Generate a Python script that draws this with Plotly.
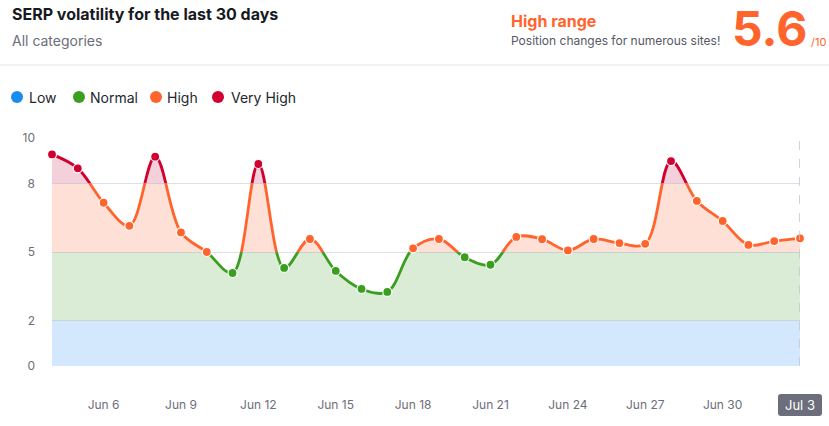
import plotly.graph_objects as go

# ---------------- data ----------------
dates = ["Jun 4", "Jun 5", "Jun 6", "Jun 7", "Jun 8", "Jun 9", "Jun 10", "Jun 11",
         "Jun 12", "Jun 13", "Jun 14", "Jun 15", "Jun 16", "Jun 17", "Jun 18",
         "Jun 19", "Jun 20", "Jun 21", "Jun 22", "Jun 23", "Jun 24", "Jun 25",
         "Jun 26", "Jun 27", "Jun 28", "Jun 29", "Jun 30", "Jul 1", "Jul 2", "Jul 3"]
volatility = [9.28, 8.67, 7.16, 6.15, 9.18, 5.86, 5.0, 4.08, 8.86, 4.3,
              5.57, 4.17, 3.38, 3.25, 5.16, 5.57, 4.77, 4.44, 5.66, 5.56,
              5.07, 5.57, 5.39, 5.36, 8.99, 7.24, 6.36, 5.31, 5.48, 5.6]
tick_labels = ["Jun 6", "Jun 9", "Jun 12", "Jun 15", "Jun 18", "Jun 21", "Jun 24", "Jun 27", "Jun 30"]
y_ticks = [0, 2, 5, 8, 10]

level_names = ["Low", "Normal", "High", "Very High"]
level_bounds = [0, 2, 5, 8, 10]
line_colors = ["#1a8cf0", "#3a9f1f", "#ff642d", "#d1002f"]
fill_colors = ["#d3e8fc", "#dbecd6", "#ffe0d7", "#f4d0da"]

# ---------------- geometry helpers ----------------
W, H = 829, 426
ML, MR, MT, MB = 52, 29, 138, 60
PW, PH = W - ML - MR, H - MT - MB


def px(x):
    return (x - ML) / PW


def py(y):
    return (H - MB - y) / PH


FONT = "Inter, Roboto, sans-serif"
fig = go.Figure()
ymax = level_bounds[-1]

# band-clipped spline lines and fills
for i in range(4):
    lo, hi = level_bounds[i], level_bounds[i + 1]
    ax = "y" if i == 0 else f"y{i + 1}"
    fig.add_trace(go.Scatter(
        x=dates, y=volatility, xaxis="x", yaxis=ax,
        mode="lines", line=dict(color=line_colors[i], width=2.8, shape="spline", smoothing=1),
        fill="tozeroy", fillcolor=fill_colors[i], hoverinfo="skip", showlegend=False))
    key = "yaxis" if i == 0 else f"yaxis{i + 1}"
    fig.layout[key] = dict(domain=[lo / ymax, hi / ymax], range=[lo, hi], anchor="x",
                           visible=False, showgrid=False, zeroline=False, fixedrange=True)


def level_of(v):
    for i in range(4):
        if v < level_bounds[i + 1]:
            return i
    return 3


marker_colors = [line_colors[level_of(v)] for v in volatility]
fig.add_trace(go.Scatter(
    x=dates, y=volatility, xaxis="x", yaxis="y5", mode="markers",
    marker=dict(size=9, color=marker_colors, line=dict(color="white", width=1.2)),
    cliponaxis=False, showlegend=False))

fig.update_layout(
    width=W, height=H,
    margin=dict(l=ML, r=MR, t=MT, b=MB),
    paper_bgcolor="white", plot_bgcolor="rgba(0,0,0,0)",
    font=dict(family=FONT, color="#6c6e79", size=12),
    showlegend=False,
    xaxis=dict(type="category", range=[0, len(dates) - 1], anchor="y5",
               tickmode="array", tickvals=tick_labels, ticktext=tick_labels,
               showgrid=False, zeroline=False, showline=False, ticks="",
               ticklabelstandoff=30, tickfont=dict(size=12, color="#6c6e79")),
    yaxis5=dict(domain=[0, 1], range=[0, ymax], anchor="x",
                tickmode="array", tickvals=y_ticks, ticktext=[str(t) for t in y_ticks],
                showgrid=True, gridcolor="rgba(150,150,190,0.30)", gridwidth=1,
                zeroline=False, showline=False, ticks="", ticklabelstandoff=16,
                tickfont=dict(size=12, color="#6c6e79")),
)

shapes = []
# dashed current-day line
shapes.append(dict(type="line", xref="x", yref="paper", x0=dates[-1], x1=dates[-1], y0=0, y1=1,
                   line=dict(color="#c7c8d0", width=1.6, dash="dash"), layer="above"))
# separator line
shapes.append(dict(type="line", xref="paper", yref="paper", x0=px(0), x1=px(W), y0=py(65), y1=py(65),
                   line=dict(color="#e2e3ea", width=1)))
# legend dots
legend_x = [17, 79, 156, 218]
for i, cx in enumerate(legend_x):
    shapes.append(dict(type="circle", xref="paper", yref="paper",
                       x0=px(cx - 6), x1=px(cx + 6), y0=py(97 + 6), y1=py(97 - 6),
                       fillcolor=line_colors[i], line=dict(width=0)))
# rounded badge behind the current day label (right edge of the plot = last day)
shapes.append(dict(type="path", xref="paper", yref="paper", xsizemode="pixel", ysizemode="pixel",
                   xanchor=1.0, yanchor=py(405),
                   path="M-19,-11 H19 Q22,-11 22,-8 V8 Q22,11 19,11 H-19 Q-22,11 -22,8 V-8 Q-22,-11 -19,-11 Z",
                   fillcolor="#6c6e7b", line=dict(width=0), layer="below"))
fig.update_layout(shapes=shapes)

ann = []
ann.append(dict(text="<b>SERP volatility for the last 30 days</b>", x=px(10), y=py(14),
                xref="paper", yref="paper", xanchor="left", yanchor="middle", showarrow=False,
                font=dict(size=16, color="#171a22", family=FONT)))
ann.append(dict(text="All categories", x=px(10), y=py(40), xref="paper", yref="paper",
                xanchor="left", yanchor="middle", showarrow=False,
                font=dict(size=14, color="#6c6e79", family=FONT)))
ann.append(dict(text="<b>High range</b>", x=px(509), y=py(21), xref="paper", yref="paper",
                xanchor="left", yanchor="middle", showarrow=False,
                font=dict(size=16, color="#ff642d", family=FONT)))
ann.append(dict(text="Position changes for numerous sites!", x=px(509), y=py(41), xref="paper",
                yref="paper", xanchor="left", yanchor="middle", showarrow=False,
                font=dict(size=12, color="#555865", family=FONT)))
ann.append(dict(text=f"<b>{volatility[-1]}</b>", x=px(809), y=py(28), xref="paper", yref="paper",
                xanchor="right", yanchor="middle", showarrow=False,
                font=dict(size=48, color="#ff642d", family=FONT)))
ann.append(dict(text="/10", x=px(809), y=py(42), xref="paper", yref="paper",
                xanchor="left", yanchor="middle", showarrow=False,
                font=dict(size=11, color="#ff642d", family=FONT)))
legend_tx = [27, 88, 165, 229]
for i, tx in enumerate(legend_tx):
    ann.append(dict(text=level_names[i], x=px(tx), y=py(97), xref="paper", yref="paper",
                    xanchor="left", yanchor="middle", showarrow=False,
                    font=dict(size=14, color="#24262e", family=FONT)))
ann.append(dict(text=dates[-1], x=dates[-1], y=py(405), xref="x", yref="paper",
                xanchor="center", yanchor="middle", showarrow=False,
                font=dict(size=13, color="white", family=FONT)))
fig.update_layout(annotations=ann)

fig.write_html("out.html", config={"displayModeBar": False},
               post_script="document.body.style.margin='0';")
